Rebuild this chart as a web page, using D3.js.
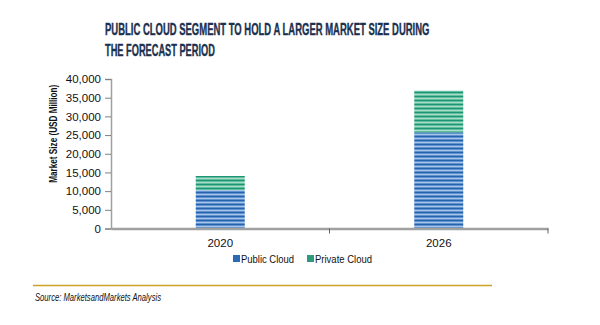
<!DOCTYPE html>
<html>
<head>
<meta charset="utf-8">
<script src="https://cdn.jsdelivr.net/npm/d3@7"></script>
<style>
  body { margin: 0; background: #fff; }
  svg { display: block; }
</style>
</head>
<body>
<div id="chart"></div>
<script>
// data
const years = ['2020', '2026'];
const publicCloud = [10300, 25700];
const privateCloud = [3750, 11200];
const yTicks = [0, 5000, 10000, 15000, 20000, 25000, 30000, 35000, 40000];
const seriesNames = ['Public Cloud', 'Private Cloud'];

const width = 600, height = 325;
const margin = { left: 111, right: 52, top: 79, bottom: 96 };

const svg = d3.select('#chart').append('svg')
  .attr('width', width)
  .attr('height', height);

// striped fills
const defs = svg.append('defs');
function stripes(id, base, dark, light) {
  const p = defs.append('pattern')
    .attr('id', id)
    .attr('patternUnits', 'userSpaceOnUse')
    .attr('width', 8).attr('height', 4);
  p.append('rect').attr('width', 8).attr('height', 4).attr('fill', base);
  p.append('rect').attr('y', 0).attr('width', 8).attr('height', 1).attr('fill', dark);
  p.append('rect').attr('y', 2).attr('width', 8).attr('height', 1).attr('fill', light);
}
stripes('stripeBlue', '#5f92cf', '#2763ad', '#a9c6e8');
stripes('stripeGreen', '#5fbf9f', '#1f9474', '#aadcc9');

const colors = ['url(#stripeBlue)', 'url(#stripeGreen)'];
const swatch = ['#2e69b3', '#2e9a7c'];

const x = d3.scaleBand()
  .domain(years)
  .range([margin.left, width - margin.right]);

const y = d3.scaleLinear()
  .domain([0, 40000])
  .range([height - margin.bottom - 0.5, margin.top]);

// squeeze a text horizontally to a target width (no condensed font installed)
function squeeze(sel, x0, y0, w) {
  const natural = sel.node().getComputedTextLength();
  sel.attr('x', 0).attr('y', 0)
    .attr('transform', `translate(${x0},${y0}) scale(${w / natural},1)`);
}

// title
const title = svg.append('g')
  .attr('font-family', 'Arial, "Liberation Sans", sans-serif')
  .attr('font-weight', 'bold')
  .attr('font-size', 16.5)
  .attr('fill', '#1b3150')
  .attr('stroke', '#1b3150')
  .attr('stroke-width', 0.4);
squeeze(title.append('text').text('PUBLIC CLOUD SEGMENT TO HOLD A LARGER MARKET SIZE DURING'), 105, 35, 325);
squeeze(title.append('text').text('THE FORECAST PERIOD'), 105, 55.5, 110);

// stacked bars
const stack = d3.stack().keys([0, 1])
  .value((d, k) => d[k]);
const rows = years.map((yr, i) => [publicCloud[i], privateCloud[i]]);
const layers = stack(rows);
const barW = 49;

svg.append('g').selectAll('g')
  .data(layers)
  .join('g')
  .attr('fill', (d, i) => colors[i])
  .selectAll('rect')
  .data(d => d)
  .join('rect')
  .attr('x', (d, i) => x(years[i]) + x.bandwidth() / 2 - barW / 2)
  .attr('y', d => y(d[1]))
  .attr('width', barW)
  .attr('height', d => y(d[0]) - y(d[1]));

// y axis
const yAxis = svg.append('g')
  .attr('transform', `translate(${margin.left},0)`)
  .call(d3.axisLeft(y).tickValues(yTicks).tickSize(6).tickPadding(4)
    .tickFormat(d3.format(',')));
yAxis.select('.domain').attr('stroke', '#a0a0a0').attr('stroke-width', 1.5);
yAxis.selectAll('.tick line').attr('stroke', '#808080');
yAxis.selectAll('.tick text')
  .attr('font-family', 'Arial, "Liberation Sans", sans-serif')
  .attr('font-size', 11.5)
  .attr('fill', '#111');

// x axis
const xAxis = svg.append('g')
  .attr('transform', `translate(0,${y(0)})`)
  .call(d3.axisBottom(x).tickSize(0).tickPadding(10));
xAxis.select('.domain').attr('stroke', '#a0a0a0').attr('stroke-width', 2.5);
xAxis.selectAll('.tick text')
  .attr('font-family', 'Arial, "Liberation Sans", sans-serif')
  .attr('font-size', 11.5)
  .attr('fill', '#111');
// category boundary ticks
xAxis.selectAll('.sep')
  .data([x(years[1]), width - margin.right])
  .join('line')
  .attr('x1', d => d).attr('x2', d => d)
  .attr('y1', 0).attr('y2', 5)
  .attr('stroke', '#606060');

// y axis title
svg.append('text')
  .attr('transform', `translate(57,${(y(0) + y(40000)) / 2 - 20}) rotate(-90)`)
  .attr('text-anchor', 'middle')
  .attr('font-family', 'Arial, "Liberation Sans", sans-serif')
  .attr('font-weight', 'bold')
  .attr('font-size', 10.5)
  .attr('fill', '#111')
  .attr('textLength', 98).attr('lengthAdjust', 'spacingAndGlyphs')
  .text('Market Size (USD Million)');

// legend
const legend = svg.append('g')
  .attr('font-family', 'Arial, "Liberation Sans", sans-serif')
  .attr('font-size', 11)
  .attr('fill', '#111');
const legX = [233, 307];
const legW = [53, 57];
seriesNames.forEach((name, i) => {
  legend.append('rect')
    .attr('x', legX[i]).attr('y', 255)
    .attr('width', 7).attr('height', 7)
    .attr('fill', swatch[i]);
  legend.append('text')
    .attr('x', legX[i] + 8).attr('y', 262.5)
    .attr('textLength', legW[i]).attr('lengthAdjust', 'spacingAndGlyphs')
    .text(name);
});

// footer
svg.append('line')
  .attr('x1', 33).attr('x2', 492)
  .attr('y1', 285.5).attr('y2', 285.5)
  .attr('stroke', '#c9a227')
  .attr('stroke-width', 1.6);
svg.append('text')
  .attr('x', 35).attr('y', 301)
  .attr('font-family', 'Arial, "Liberation Sans", sans-serif')
  .attr('font-style', 'italic')
  .attr('font-size', 10.5)
  .attr('fill', '#111')
  .attr('textLength', 126).attr('lengthAdjust', 'spacingAndGlyphs')
  .text('Source: MarketsandMarkets Analysis');
</script>
</body>
</html>
